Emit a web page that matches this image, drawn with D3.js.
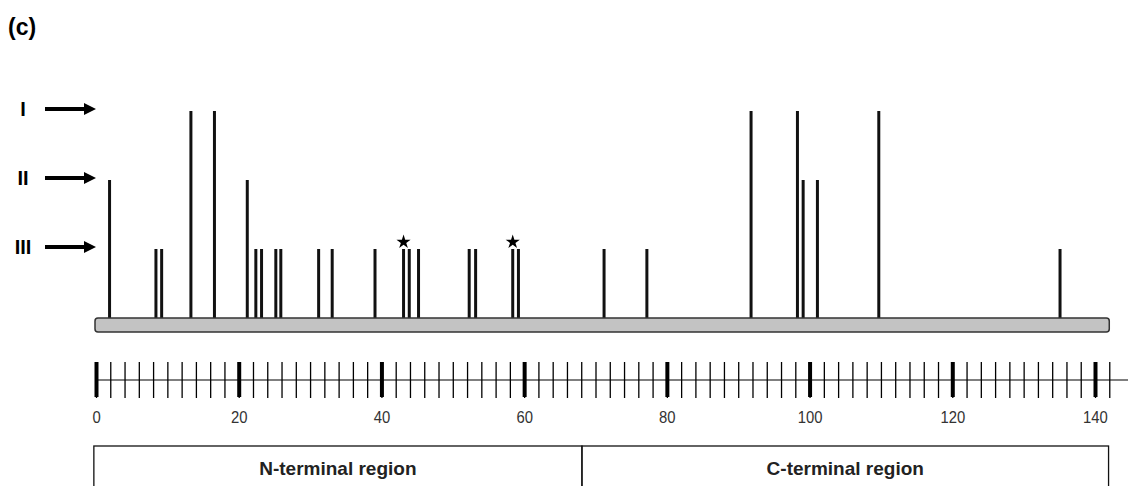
<!DOCTYPE html>
<html>
<head>
<meta charset="utf-8">
<script src="https://cdn.jsdelivr.net/npm/d3@7"></script>
<style>
  body { margin: 0; background: #fff; }
  svg { display: block; }
</style>
</head>
<body>
<svg width="1128" height="486"></svg>
<script>
// residue positions of the lineage-specific sites, and the level (I, II, III) they reach
const positions = [1.9, 8.4, 9.2, 13.3, 16.6, 21.2, 22.4, 23.2, 25.2, 25.9, 31.2, 33.1, 39.1,
  43.1, 43.9, 45.2, 52.3, 53.2, 58.4, 59.2, 71.2, 77.2, 91.8, 98.3, 99.1, 101.1, 109.7, 135.1];
const levels = [2, 3, 3, 1, 1, 2, 3, 3, 3, 3, 3, 3, 3,
  3, 3, 3, 3, 3, 3, 3, 3, 3, 1, 1, 2, 2, 1, 3];
const starred = [43.1, 58.4];

const levelLabels = ['I', 'II', 'III'];
const majorTicks = d3.range(0, 141, 20);
const minorTicks = d3.range(0, 143, 2);
const proteinLength = 142;
const regions = ['N-terminal region', 'C-terminal region'];
const regionBounds = [-0.3, 68.1, 141.9];

const svg = d3.select('svg');
const font = 'Liberation Sans, Arial, sans-serif';

// scales
const x = d3.scaleLinear().domain([0, 140]).range([96, 1095]);
const y = d3.scalePoint().domain([1, 2, 3]).range([111, 249]);
const baseY = 319;

// panel label
svg.append('text')
  .attr('x', 8).attr('y', 35)
  .attr('font-family', font)
  .attr('font-weight', 'bold')
  .attr('font-size', 23)
  .text('(c)');

// level labels + arrows
const arrowG = svg.append('g');
levelLabels.forEach((lab, i) => {
  const yy = y(i + 1) - 2;
  arrowG.append('text')
    .attr('x', 23).attr('y', yy + 7)
    .attr('text-anchor', 'middle')
    .attr('font-family', font)
    .attr('font-weight', 'bold')
    .attr('font-size', 20)
    .text(lab);
  arrowG.append('line')
    .attr('x1', 45).attr('x2', 86)
    .attr('y1', yy).attr('y2', yy)
    .attr('stroke', '#000').attr('stroke-width', 4);
  arrowG.append('path')
    .attr('d', `M84,${yy - 6}L96,${yy}L84,${yy + 6}Z`)
    .attr('fill', '#000');
});

// sites
const sites = positions.map((p, i) => ({ pos: p, level: levels[i] }));
svg.append('g').selectAll('line')
  .data(sites)
  .join('line')
  .attr('x1', d => x(d.pos)).attr('x2', d => x(d.pos))
  .attr('y1', baseY).attr('y2', d => y(d.level))
  .attr('stroke', '#111')
  .attr('stroke-width', 3);

// stars over a couple of sites
svg.append('g').selectAll('path')
  .data(starred)
  .join('path')
  .attr('d', d3.symbol(d3.symbolStar, 62))
  .attr('transform', d => `translate(${x(d)},242)`)
  .attr('fill', '#000');

// protein bar
svg.append('rect')
  .attr('x', x(0) - 1).attr('y', 318)
  .attr('width', x(proteinLength) - x(0) + 1).attr('height', 14)
  .attr('rx', 3)
  .attr('fill', '#c3c3c3')
  .attr('stroke', '#333')
  .attr('stroke-width', 1.5);

// ruler line
svg.append('line')
  .attr('x1', x(0)).attr('x2', 1128)
  .attr('y1', 380).attr('y2', 380)
  .attr('stroke', '#000').attr('stroke-width', 1.2);

// minor ticks
const minorAxis = svg.append('g')
  .attr('transform', 'translate(0,362)')
  .call(d3.axisBottom(x).tickValues(minorTicks).tickSize(36).tickFormat(''));
minorAxis.select('.domain').remove();
minorAxis.selectAll('.tick line').attr('stroke', '#000').attr('stroke-width', 1.3);

// major ticks with labels
const majorAxis = svg.append('g')
  .attr('transform', 'translate(0,362)')
  .call(d3.axisBottom(x).tickValues(majorTicks).tickSize(35).tickPadding(14));
majorAxis.select('.domain').remove();
majorAxis.selectAll('.tick line').attr('stroke', '#000').attr('stroke-width', 4);
majorAxis.selectAll('.tick text')
  .attr('font-family', font)
  .attr('font-size', 16.5)
  .attr('fill', '#333')
  .attr('transform', 'scale(0.9,1)');

// region boxes
const boxG = svg.append('g');
regions.forEach((r, i) => {
  const x0 = x(regionBounds[i]), x1 = x(regionBounds[i + 1]);
  boxG.append('rect')
    .attr('x', x0).attr('y', 446)
    .attr('width', x1 - x0).attr('height', 60)
    .attr('fill', 'none')
    .attr('stroke', '#111').attr('stroke-width', 1.3);
  boxG.append('text')
    .attr('x', (x0 + x1) / 2).attr('y', 475)
    .attr('text-anchor', 'middle')
    .attr('font-family', font)
    .attr('font-weight', 'bold')
    .attr('font-size', 19)
    .attr('fill', '#222')
    .text(r);
});
</script>
</body>
</html>
